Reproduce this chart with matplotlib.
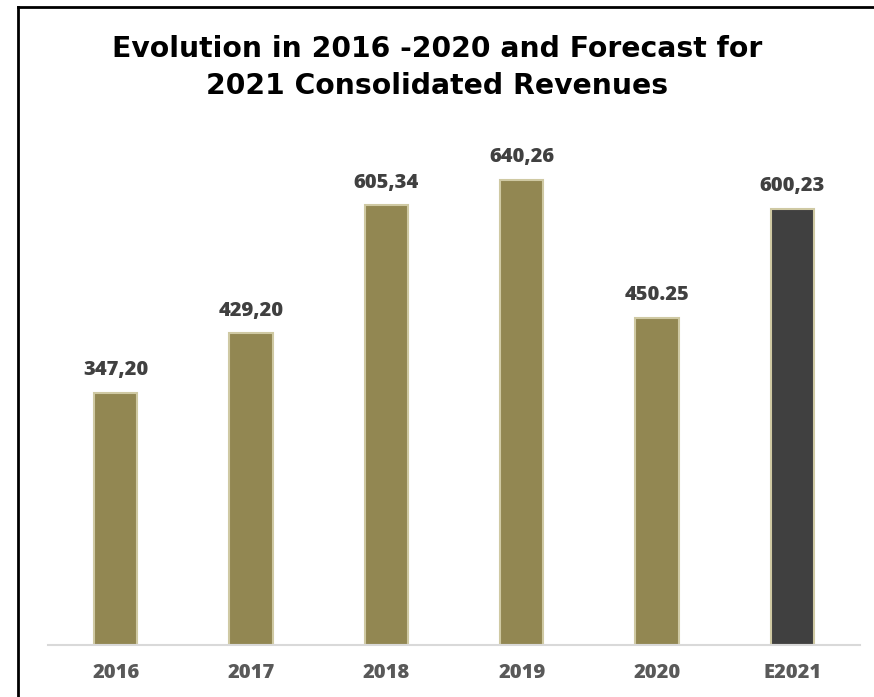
import matplotlib
matplotlib.use("Agg")
import matplotlib.pyplot as plt

# data
years = ["2016", "2017", "2018", "2019", "2020", "E2021"]
revenues = [347.20, 429.20, 605.34, 640.26, 450.25, 600.23]
value_labels = ["347,20", "429,20", "605,34", "640,26", "450.25", "600,23"]
bar_colors = ["#928752", "#928752", "#928752", "#928752", "#928752", "#404040"]

fig = plt.figure(figsize=(8.74, 6.97), dpi=100)
ax = fig.add_axes([48 / 874, 52 / 697, 812 / 874, 505 / 697])

x = range(len(years))
ax.bar(x, revenues, width=0.32, color=bar_colors,
       edgecolor="#cfc9a3", linewidth=1.5, zorder=2)

for xi, v, lab in zip(x, revenues, value_labels):
    ax.annotate(lab, (xi, v), xytext=(0, 9), textcoords="offset points",
                ha="center", va="bottom", fontsize=14.5, fontweight=800,
                color="#404040", family="Open Sans")

ax.set_xlim(-0.5, len(years) - 0.5)
ax.set_ylim(0, 695)
ax.set_xticks(list(x))
ax.set_xticklabels(years, fontsize=14.5, fontweight=800, color="#595959",
                   family="Open Sans")
ax.tick_params(axis="x", length=0, pad=13)
ax.set_yticks([])
for s in ["top", "right", "left"]:
    ax.spines[s].set_visible(False)
ax.spines["bottom"].set_color("#d9d9d9")
ax.spines["bottom"].set_linewidth(1.5)

fig.text(0.5, 1 - 49 / 697, "Evolution in 2016 -2020 and Forecast for",
         ha="center", va="center", fontsize=20.3, fontweight="bold",
         family="DejaVu Sans", color="black")
fig.text(0.5, 1 - 86 / 697, "2021 Consolidated Revenues",
         ha="center", va="center", fontsize=20.3, fontweight="bold",
         family="DejaVu Sans", color="black")

# outer frame (left and top edges visible)
fig.add_artist(plt.Line2D([18 / 874, 18 / 874], [0, 1 - 7 / 697],
                          color="black", linewidth=2, transform=fig.transFigure))
fig.add_artist(plt.Line2D([18 / 874, 1], [1 - 7 / 697, 1 - 7 / 697],
                          color="black", linewidth=2, transform=fig.transFigure))

fig.savefig("out.png", dpi=100)
